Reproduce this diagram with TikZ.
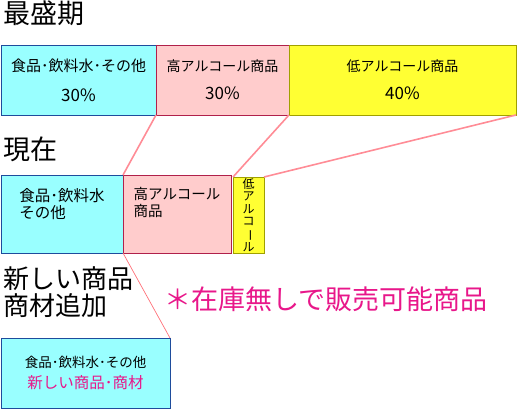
\documentclass[tikz,border=0pt]{standalone}
\usepackage{fontspec}
\setmainfont{Noto Sans CJK JP}
\usepackage{tikz}
\usepackage{xcolor}
\usetikzlibrary{positioning}
\definecolor{foodcyan}{RGB}{153, 255, 255}
\definecolor{foodedge}{RGB}{30, 76, 156}
\definecolor{highpink}{RGB}{255, 204, 204}
\definecolor{highedge}{RGB}{176, 32, 74}
\definecolor{lowyellow}{RGB}{255, 255, 51}
\definecolor{lowedge}{RGB}{160, 160, 0}
\definecolor{linkpink}{RGB}{255, 140, 150}
\definecolor{notemagenta}{RGB}{232, 23, 138}
\tikzset{
    % Food / drink / other block
    foodblock/.style={
        draw=foodedge, thick,
        fill=foodcyan,
        minimum width=#1,
        outer sep=0pt,
        inner sep=2pt,
    },
    % High alcohol block
    highblock/.style={
        draw=highedge, thick,
        fill=highpink,
        minimum width=#1,
        outer sep=0pt,
        inner sep=2pt,
    },
    % Low alcohol block
    lowblock/.style={
        draw=lowedge, thick,
        fill=lowyellow,
        minimum width=#1,
        outer sep=0pt,
        inner sep=2pt,
    },
    % Connector between periods
    linkline/.style={
        linkpink,
        line width=1.6pt,
    },
    thinlink/.style={
        linkpink!80!red,
        line width=0.7pt,
    },
    % Section titles
    headlabel/.style={
        font=\fontsize{27}{29}\selectfont,
        anchor=north west,
        inner sep=0pt,
        align=left,
    },
    boxtext/.style={
        font=\fontsize{14}{16}\selectfont,
        align=center,
    },
}
\newcommand{\pct}[1]{{\fontsize{17}{18}\selectfont #1\%}}

\begin{document}
\begin{tikzpicture}[x=1pt, y=1pt]
\useasboundingbox (0,0) rectangle (517,-409);

% =========================================================================
% PEAK PERIOD
% =========================================================================
\node[headlabel] (peaktitle) at (3,-1) {最盛期};

\node[foodblock=155pt, minimum height=70pt, anchor=north west, boxtext,
      font=\fontsize{15}{16}\selectfont] (peakfood) at (1,-45)
    {食品･飲料水･その他\\[14pt]\pct{30}};
\node[highblock=133pt, minimum height=70pt, right=0pt of peakfood, boxtext] (peakhigh)
    {高アルコール商品\\[12pt]\pct{30}};
\node[lowblock=227pt, minimum height=70pt, right=0pt of peakhigh, boxtext] (peaklow)
    {低アルコール商品\\[12pt]\pct{40}};

% =========================================================================
% NOW
% =========================================================================
\node[headlabel] (nowtitle) at (3,-137) {現在};

\node[foodblock=122pt, minimum height=78pt, anchor=north west,
      font=\fontsize{15.5}{17.5}\selectfont, align=left] (nowfood) at (1,-175)
    {食品･飲料水\\その他\\[4pt]};
\node[highblock=108pt, minimum height=78pt, right=0pt of nowfood,
      font=\fontsize{14.5}{17}\selectfont, align=left] (nowhigh)
    {高アルコール\\商品\\[8pt]};
\node[lowblock=31pt, minimum height=76pt, anchor=south west,
      font=\fontsize{12}{12.4}\selectfont, align=center, inner sep=0pt]
    (nowlow) at ([xshift=2pt]nowhigh.south east)
    {低\\ア\\ル\\コ\\\rotatebox[origin=c]{-90}{ー}\\ル};

% =========================================================================
% NEW PRODUCTS
% =========================================================================
\node[headlabel, font=\fontsize{26}{27}\selectfont] (newtitle) at (3,-266) {新しい商品\\商材追加};

\node[font=\fontsize{27}{28}\selectfont, text=notemagenta] (note) at (326,-299)
    {＊在庫無しで販売可能商品};

\node[foodblock=169pt, minimum height=70pt, anchor=north west, align=center] (newfood) at (1,-338)
    {{\fontsize{13.5}{15}\selectfont 食品･飲料水･その他}\\[5pt]
     {\fontsize{15.5}{17}\selectfont\color{notemagenta}新しい商品･商材}};

% =========================================================================
% CONNECTORS
% =========================================================================
\draw[linkline] (peakhigh.south west) -- (nowhigh.north west);
\draw[linkline] (peaklow.south west) -- (nowlow.north west);
\draw[linkline] (peaklow.south east) -- (nowlow.north east);
\draw[thinlink] (nowhigh.south west) -- (newfood.north east);

\end{tikzpicture}
\end{document}
